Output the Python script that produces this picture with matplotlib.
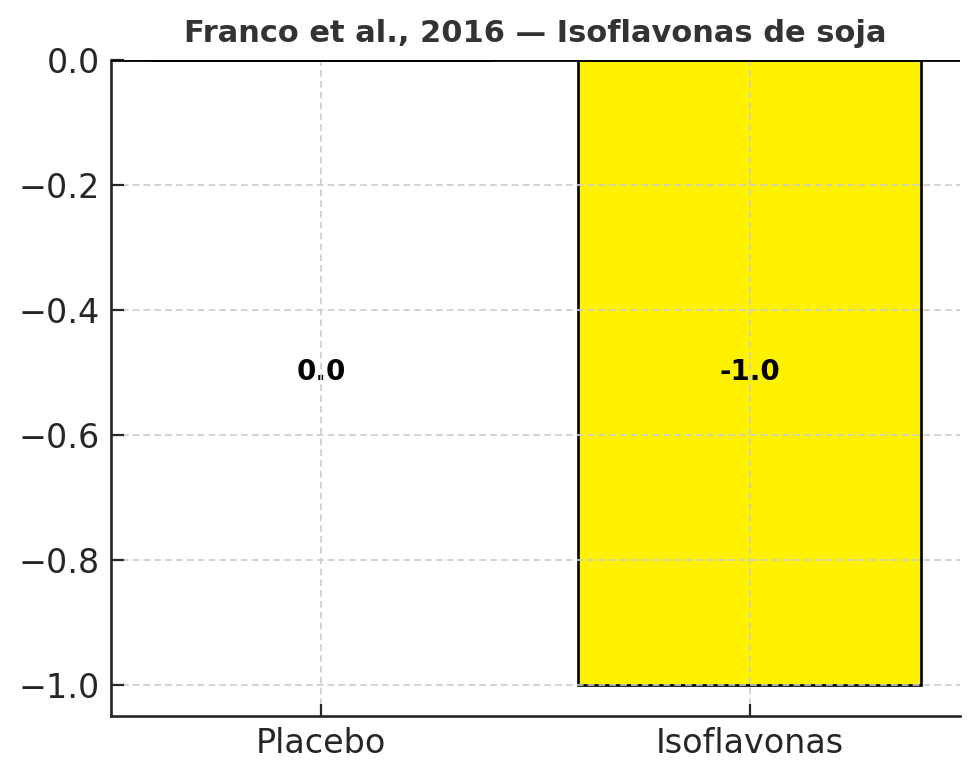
import matplotlib
matplotlib.use("Agg")
import matplotlib.pyplot as plt

# data
groups = ["Placebo", "Isoflavonas"]
values = [0.0, -1.0]
bar_colors = ["white", "#fff200"]
title = "Franco et al., 2016 \u2014 Isoflavonas de soja"

fig = plt.figure(figsize=(9.8, 7.8), dpi=100)
ax = fig.add_axes([0.1133, 0.0821, 0.8663, 0.8410])

bars = ax.bar(groups, values, width=0.8, color=bar_colors,
              edgecolor="black", linewidth=1.9)
ax.axhline(0, color="black", linewidth=2.0, zorder=4)

# value labels in the middle of the plot
for i, v in enumerate(values):
    ax.text(i, -0.5, f"{v:.1f}", ha="center", va="center",
            fontsize=20, fontweight="bold", color="black", zorder=2)

ax.set_title(title, fontsize=22, fontweight="bold", color="#333333", pad=13)

ax.grid(True, linestyle=(0, (4, 2.5)), color="#cccccc", linewidth=1.2)
ax.set_axisbelow(False)

for side in ["top", "right"]:
    ax.spines[side].set_visible(False)
for side in ["left", "bottom"]:
    ax.spines[side].set_color("#262626")
    ax.spines[side].set_linewidth(1.9)

ax.tick_params(direction="in", length=9, width=1.6, colors="#262626",
               labelsize=24, pad=8)

fig.savefig("out.png", dpi=100)
